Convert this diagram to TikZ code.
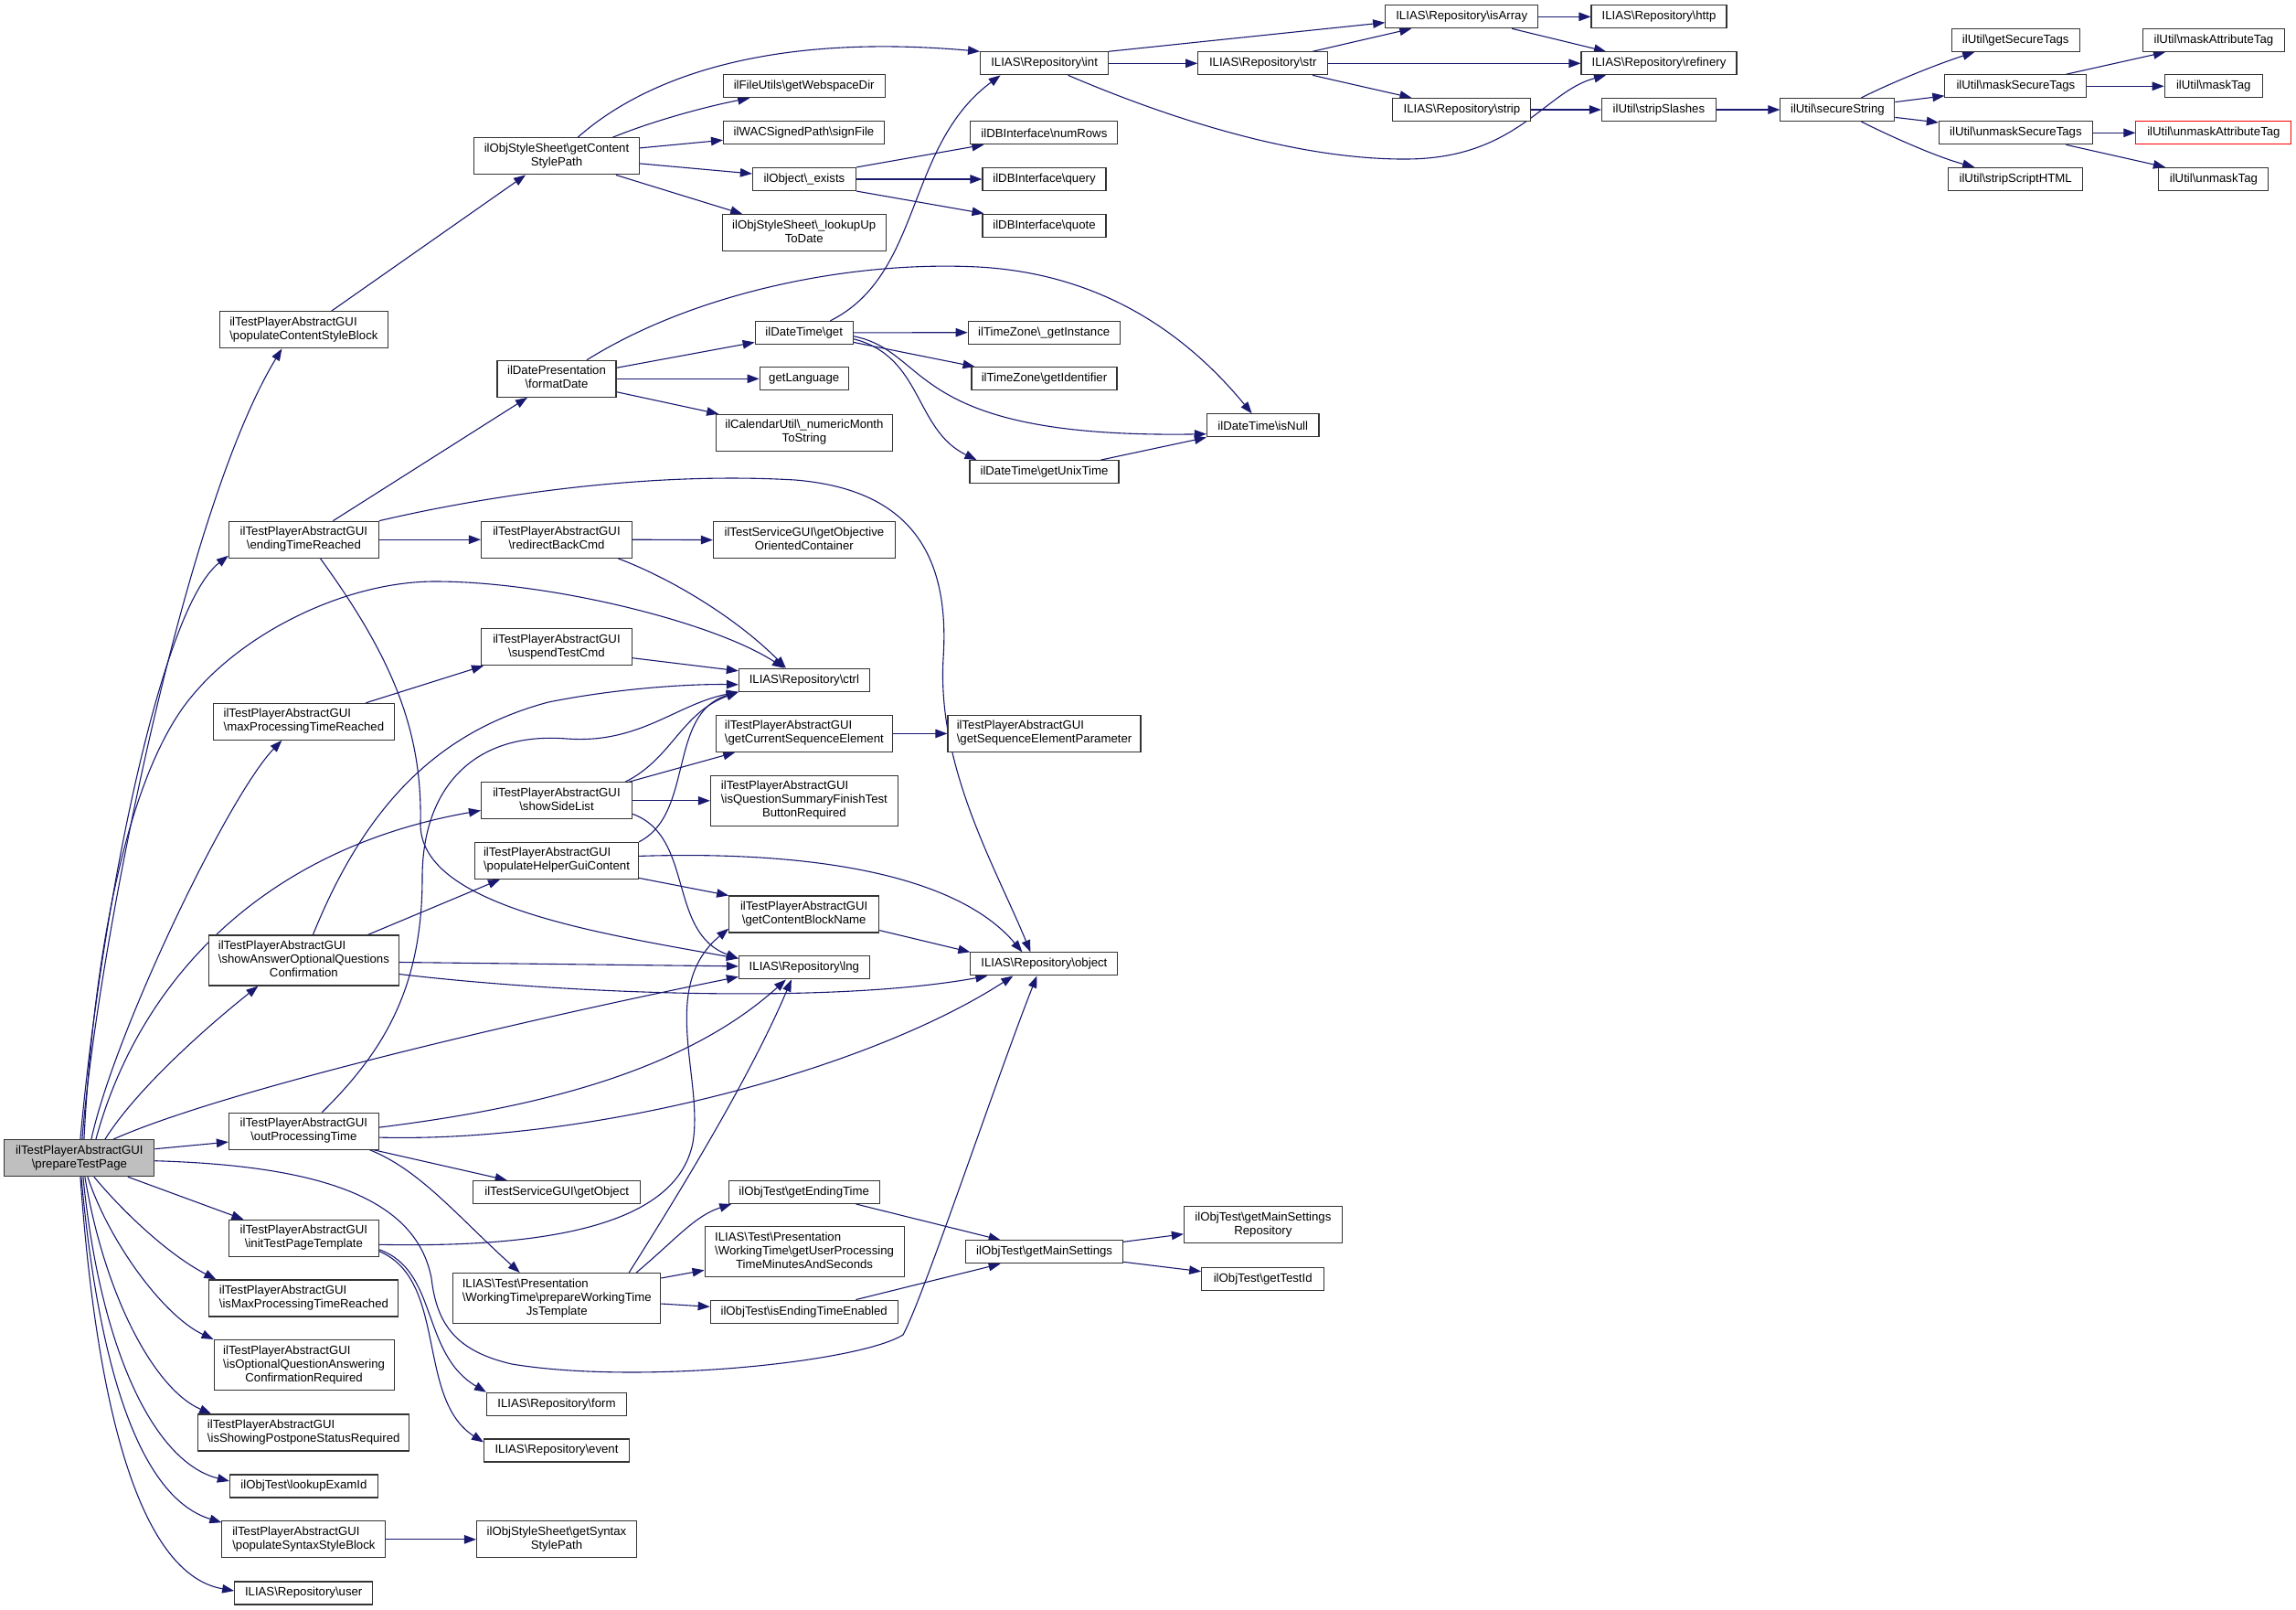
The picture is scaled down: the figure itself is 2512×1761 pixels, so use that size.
\documentclass[tikz,border=0pt]{standalone}
\usepackage{fontspec}
\setmainfont{Liberation Sans}
\usetikzlibrary{arrows.meta}
\definecolor{edgecol}{HTML}{191970}
\definecolor{rootfill}{HTML}{BFBFBF}
\newcommand{\BS}{\textbackslash}
\newcommand{\Lft}[1]{\multicolumn{1}{@{}l@{}}{#1}}
\newcommand{\TwoL}[2]{\begin{tabular}{@{}c@{}}\Lft{#1}\\#2\end{tabular}}
\newcommand{\ThreeL}[3]{\begin{tabular}{@{}c@{}}\Lft{#1}\\\Lft{#2}\\#3\end{tabular}}
\pgfdeclarelayer{bg}
\pgfsetlayers{bg,main}
\begin{document}
\begin{tikzpicture}[x=1pt,y=-1pt,
  fn/.style={draw=black!80, line width=1.1pt, fill=white, inner sep=0pt,
    minimum height=25, font=\fontsize{13.2}{15}\selectfont},
  two/.style={minimum height=40},
  three/.style={minimum height=55},
  root/.style={fill=rootfill},
  redbox/.style={draw=red},
  e/.style={draw=edgecol, line width=1.1pt, -{Triangle[length=13pt,width=9.5pt]}}]
\useasboundingbox (0,0) rectangle (2512,1761);
% nodes
\node[fn,two,root,minimum width=164] (P) at (86.9,1266.7) {\TwoL{ilTestPlayerAbstractGUI}{\BS prepareTestPage}};
\node[fn,two,minimum width=184] (PCSB) at (332.4,360.9) {\TwoL{ilTestPlayerAbstractGUI}{\BS populateContentStyleBlock}};
\node[fn,two,minimum width=181] (GCSP) at (609,170.9) {\TwoL{ilObjStyleSheet\BS getContent}{StylePath}};
\node[fn,minimum width=140] (INT) at (1142.6,69.3) {ILIAS\BS Repository\BS int};
\node[fn,minimum width=177] (WEB) at (879.7,94.3) {ilFileUtils\BS getWebspaceDir};
\node[fn,minimum width=176] (SIGN) at (879.5,145.3) {ilWACSignedPath\BS signFile};
\node[fn,minimum width=113] (EXISTS) at (879.9,196) {ilObject\BS\_exists};
\node[fn,two,minimum width=179] (LOOKUP) at (879.7,254.6) {\TwoL{ilObjStyleSheet\BS\_lookupUp}{ToDate}};
\node[fn,minimum width=161] (NUMROWS) at (1142.4,145.3) {ilDBInterface\BS numRows};
\node[fn,minimum width=135] (QUERY) at (1142.5,196) {ilDBInterface\BS query};
\node[fn,minimum width=135] (QUOTE) at (1142.5,246.6) {ilDBInterface\BS quote};
\node[fn,minimum width=167] (ISARRAY) at (1599.2,18.3) {ILIAS\BS Repository\BS isArray};
\node[fn,minimum width=148] (HTTP) at (1815,18.3) {ILIAS\BS Repository\BS http};
\node[fn,minimum width=142] (STR) at (1381.7,69.3) {ILIAS\BS Repository\BS str};
\node[fn,minimum width=170] (REFINERY) at (1815,69.3) {ILIAS\BS Repository\BS refinery};
\node[fn,minimum width=151] (STRIP) at (1599.4,120) {ILIAS\BS Repository\BS strip};
\node[fn,minimum width=125] (STRIPSL) at (1814.9,120) {ilUtil\BS stripSlashes};
\node[fn,minimum width=125] (SECURE) at (2010.4,120) {ilUtil\BS secureString};
\node[fn,minimum width=140] (GETSEC) at (2205.2,44) {ilUtil\BS getSecureTags};
\node[fn,minimum width=155] (MASKSEC) at (2205.4,94.3) {ilUtil\BS maskSecureTags};
\node[fn,minimum width=168] (UNMASKSEC) at (2205.4,145.3) {ilUtil\BS unmaskSecureTags};
\node[fn,minimum width=147] (STRIPHTML) at (2205.2,195.8) {ilUtil\BS stripScriptHTML};
\node[fn,minimum width=155] (MASKATTR) at (2421.9,44) {ilUtil\BS maskAttributeTag};
\node[fn,minimum width=107] (MASKTAG) at (2421.7,94.3) {ilUtil\BS maskTag};
\node[fn,redbox,minimum width=170] (UNMASKATTR) at (2421.9,145.3) {ilUtil\BS unmaskAttributeTag};
\node[fn,minimum width=120] (UNMASKTAG) at (2421.9,195.8) {ilUtil\BS unmaskTag};
\node[fn,two,minimum width=130] (FORMATDATE) at (609,414.3) {\TwoL{ilDatePresentation}{\BS formatDate}};
\node[fn,minimum width=107] (DTGET) at (879.7,363.9) {ilDateTime\BS get};
\node[fn,minimum width=166] (GETINST) at (1142.2,363.7) {ilTimeZone\BS\_getInstance};
\node[fn,minimum width=159] (GETIDENT) at (1142.5,414.1) {ilTimeZone\BS getIdentifier};
\node[fn,minimum width=97] (GETLANG) at (879.7,414.3) {getLanguage};
\node[fn,two,minimum width=193] (NUMMONTH) at (879.9,473.3) {\TwoL{ilCalendarUtil\BS\_numericMonth}{ToString}};
\node[fn,minimum width=163] (UNIXTIME) at (1142.5,516.1) {ilDateTime\BS getUnixTime};
\node[fn,minimum width=122.5] (ISNULL) at (1381.7,465.4) {ilDateTime\BS isNull};
\node[fn,two,minimum width=164] (ENDING) at (332.4,590.2) {\TwoL{ilTestPlayerAbstractGUI}{\BS endingTimeReached}};
\node[fn,two,minimum width=165] (REDIRECT) at (609,590.2) {\TwoL{ilTestPlayerAbstractGUI}{\BS redirectBackCmd}};
\node[fn,two,minimum width=199] (OBJCONT) at (879.9,590.6) {\TwoL{ilTestServiceGUI\BS getObjective}{OrientedContainer}};
\node[fn,two,minimum width=165] (SUSPEND) at (609,707.7) {\TwoL{ilTestPlayerAbstractGUI}{\BS suspendTestCmd}};
\node[fn,two,minimum width=198] (MAXPROC) at (332.4,789.3) {\TwoL{ilTestPlayerAbstractGUI}{\BS maxProcessingTimeReached}};
\node[fn,minimum width=143] (CTRL) at (879.9,743.8) {ILIAS\BS Repository\BS ctrl};
\node[fn,two,minimum width=193] (CURSEQ) at (879.9,802.4) {\TwoL{ilTestPlayerAbstractGUI}{\BS getCurrentSequenceElement}};
\node[fn,two,minimum width=211] (SEQPARAM) at (1142.5,802.4) {\TwoL{ilTestPlayerAbstractGUI}{\BS getSequenceElementParameter}};
\node[fn,two,minimum width=165] (SIDELIST) at (609,875.8) {\TwoL{ilTestPlayerAbstractGUI}{\BS showSideList}};
\node[fn,three,minimum width=205] (QSUMMARY) at (879.9,875.8) {\ThreeL{ilTestPlayerAbstractGUI}{\BS isQuestionSummaryFinishTest}{ButtonRequired}};
\node[fn,two,minimum width=179] (HELPER) at (609,941.4) {\TwoL{ilTestPlayerAbstractGUI}{\BS populateHelperGuiContent}};
\node[fn,two,minimum width=164] (CBNAME) at (879.7,1000) {\TwoL{ilTestPlayerAbstractGUI}{\BS getContentBlockName}};
\node[fn,three,minimum width=208] (SHOWANS) at (332.4,1050.5) {\ThreeL{ilTestPlayerAbstractGUI}{\BS showAnswerOptionalQuestions}{Confirmation}};
\node[fn,minimum width=143] (LNG) at (879.9,1058.4) {ILIAS\BS Repository\BS lng};
\node[fn,minimum width=161] (OBJECT) at (1142.4,1054.4) {ILIAS\BS Repository\BS object};
\node[fn,two,minimum width=164] (OUTPROC) at (332.4,1237.1) {\TwoL{ilTestPlayerAbstractGUI}{\BS outProcessingTime}};
\node[fn,minimum width=183] (GETOBJ) at (609.2,1303.9) {ilTestServiceGUI\BS getObject};
\node[fn,two,minimum width=164] (INITTPL) at (332.4,1354.3) {\TwoL{ilTestPlayerAbstractGUI}{\BS initTestPageTemplate}};
\node[fn,three,minimum width=227] (PREPWT) at (609.2,1420) {\ThreeL{ILIAS\BS Test\BS Presentation}{\BS WorkingTime\BS prepareWorkingTime}{JsTemplate}};
\node[fn,two,minimum width=207] (ISMAXPROC) at (332.4,1420) {\TwoL{ilTestPlayerAbstractGUI}{\BS isMaxProcessingTimeReached}};
\node[fn,three,minimum width=197] (ISOPT) at (332.6,1493) {\ThreeL{ilTestPlayerAbstractGUI}{\BS isOptionalQuestionAnswering}{ConfirmationRequired}};
\node[fn,two,minimum width=231] (ISSHOW) at (332.2,1567) {\TwoL{ilTestPlayerAbstractGUI}{\BS isShowingPostponeStatusRequired}};
\node[fn,minimum width=162] (LOOKUPEXAM) at (332.4,1625.5) {ilObjTest\BS lookupExamId};
\node[fn,two,minimum width=179] (SYNTAXBLK) at (332.4,1683.8) {\TwoL{ilTestPlayerAbstractGUI}{\BS populateSyntaxStyleBlock}};
\node[fn,minimum width=151] (USER) at (332.2,1742.5) {ILIAS\BS Repository\BS user};
\node[fn,minimum width=153] (FORM) at (609,1535.8) {ILIAS\BS Repository\BS form};
\node[fn,minimum width=159] (EVENT) at (609,1586.5) {ILIAS\BS Repository\BS event};
\node[fn,two,minimum width=175] (SYNTAXPATH) at (609,1683.8) {\TwoL{ilObjStyleSheet\BS getSyntax}{StylePath}};
\node[fn,minimum width=165] (ENDTIME) at (879.7,1303.9) {ilObjTest\BS getEndingTime};
\node[fn,three,minimum width=218] (USERPROC) at (880.1,1369.3) {\ThreeL{ILIAS\BS Test\BS Presentation}{\BS WorkingTime\BS getUserProcessing}{TimeMinutesAndSeconds}};
\node[fn,minimum width=205] (ENDENABLED) at (879.7,1434.6) {ilObjTest\BS isEndingTimeEnabled};
\node[fn,minimum width=172] (MAINSET) at (1142.6,1369.3) {ilObjTest\BS getMainSettings};
\node[fn,two,minimum width=173] (MAINREPO) at (1381.9,1339.8) {\TwoL{ilObjTest\BS getMainSettings}{Repository}};
\node[fn,minimum width=134] (TESTID) at (1381.7,1398.7) {ilObjTest\BS getTestId};
% edges
\begin{pgfonlayer}{bg}
\draw[e] ([xshift=3]P.north) .. controls (105,1050) and (200,560) .. ([xshift=-24]PCSB.south);
\draw[e] ([xshift=1]P.north) .. controls (110,1000) and (175,666) .. ([yshift=3]ENDING.south west);
\draw[e] ([xshift=5]P.north) .. controls (105,1000) and (150,830) .. (212,759) .. controls (270,690) and (380,636) .. (476,636) .. controls (600,636) and (780,680) .. ([xshift=-22]CTRL.north);
\draw[e] ([xshift=13]P.north) .. controls (125,1130) and (250,870) .. ([xshift=-24]MAXPROC.south);
\draw[e] ([xshift=18]P.north) .. controls (150,1080) and (280,930) .. ([yshift=-10.7]SIDELIST.west);
\draw[e] ([xshift=28]P.north) .. controls (150,1190) and (230,1120) .. ([xshift=-50]SHOWANS.south);
\draw[e] ([xshift=37]P.north) .. controls (250,1190) and (600,1110) .. ([yshift=-10]LNG.west);
\draw[e] ([yshift=10]P.east) -- ([yshift=-12]OUTPROC.west);
\draw[e] ([yshift=-3]P.east) .. controls (350,1275) and (455,1310) .. (472,1398) .. controls (478,1450) and (500,1478) .. (560,1492) .. controls (700,1515) and (940,1490) .. (988,1460) .. controls (1010,1420) and (1090,1180) .. ([xshift=-8]OBJECT.south);
\draw[e] ([xshift=53]P.south) -- ([xshift=-66]INITTPL.north);
\draw[e] ([xshift=16]P.south) .. controls (130,1320) and (180,1370) .. ([xshift=-96]ISMAXPROC.north);
\draw[e] ([xshift=9]P.south) .. controls (120,1360) and (180,1440) .. (ISOPT.north west);
\draw[e] ([xshift=6]P.south) .. controls (115,1420) and (170,1520) .. ([xshift=-101]ISSHOW.north);
\draw[e] ([xshift=4]P.south) .. controls (110,1480) and (170,1600) .. ([yshift=5.5]LOOKUPEXAM.west);
\draw[e] ([xshift=2]P.south) .. controls (110,1520) and (160,1640) .. ([yshift=-2]SYNTAXBLK.north west);
\draw[e] ([xshift=1]P.south) .. controls (110,1600) and (170,1725) .. ([yshift=2.5]USER.west);
\draw[e] ([xshift=30]PCSB.north) -- ([xshift=-34]GCSP.south);
\draw[e] ([xshift=23]GCSP.north) .. controls (700,90) and (830,35) .. (INT.north west);
\draw[e] ([xshift=61]GCSP.north) .. controls (720,130) and (780,115) .. ([xshift=-59.5]WEB.south);
\draw[e] ([yshift=9]GCSP.east) -- ([yshift=-8]SIGN.west);
\draw[e] ([yshift=-8]GCSP.east) -- ([yshift=6]EXISTS.west);
\draw[e] ([xshift=65]GCSP.south) -- ([xshift=-67.5]LOOKUP.north);
\draw[e] (EXISTS.north east) -- ([xshift=-66]NUMROWS.south);
\draw[e] (EXISTS.east) -- (QUERY.west);
\draw[e] (EXISTS.south east) -- ([xshift=-66]QUOTE.north);
\draw[e] (INT.north east) -- ([yshift=-6.4]ISARRAY.west);
\draw[e] (INT.east) -- (STR.west);
\draw[e] ([xshift=26]INT.south) .. controls (1280,130) and (1420,175) .. (1540,174) .. controls (1660,173) and (1690,100) .. ([xshift=-58]REFINERY.south);
\draw[e] ([xshift=54.5]STR.north) -- ([xshift=-55]ISARRAY.south);
\draw[e] (STR.east) -- (REFINERY.west);
\draw[e] ([xshift=54.5]STR.south) -- ([xshift=-55]STRIP.north);
\draw[e] (ISARRAY.east) -- (HTTP.west);
\draw[e] ([xshift=55]ISARRAY.south) -- ([xshift=-58]REFINERY.north);
\draw[e] (STRIP.east) -- (STRIPSL.west);
\draw[e] (STRIPSL.east) -- (SECURE.west);
\draw[e] ([xshift=26]SECURE.north) .. controls (2070,90) and (2120,70) .. ([xshift=-45]GETSEC.south);
\draw[e] ([yshift=8.4]SECURE.east) -- ([yshift=-10.5]MASKSEC.west);
\draw[e] ([yshift=-8.4]SECURE.east) -- ([yshift=11.3]UNMASKSEC.west);
\draw[e] ([xshift=26]SECURE.south) .. controls (2070,150) and (2120,172) .. ([xshift=-45]STRIPHTML.north);
\draw[e] ([xshift=55]MASKSEC.north) -- ([xshift=-53]MASKATTR.south);
\draw[e] (MASKSEC.east) -- (MASKTAG.west);
\draw[e] (UNMASKSEC.east) -- (UNMASKATTR.west);
\draw[e] ([xshift=55]UNMASKSEC.south) -- ([xshift=-53]UNMASKTAG.north);
\draw[e] ([xshift=32]ENDING.north) -- ([xshift=-32]FORMATDATE.south);
\draw[e] (ENDING.east) -- (REDIRECT.west);
\draw[e] (ENDING.north east) .. controls (520,545) and (700,515) .. (870,525) .. controls (990,535) and (1040,600) .. (1032,720) .. controls (1025,840) and (1090,950) .. ([xshift=-15]OBJECT.north);
\draw[e] ([xshift=18]ENDING.south) .. controls (430,720) and (462,800) .. (460,900) .. controls (458,990) and (650,1020) .. ([yshift=10]LNG.west);
\draw[e] (REDIRECT.east) -- (OBJCONT.west);
\draw[e] ([xshift=67]REDIRECT.south) .. controls (740,635) and (810,680) .. ([xshift=-20]CTRL.north);
\draw[e] ([yshift=-12]SUSPEND.east) -- ([yshift=10]CTRL.west);
\draw[e] ([xshift=68]MAXPROC.north) -- ([xshift=-80]SUSPEND.south);
\draw[e] ([xshift=10]SHOWANS.north) .. controls (400,880) and (480,800) .. (600,768) .. controls (680,752) and (760,748) .. ([yshift=-5]CTRL.west);
\draw[e] ([xshift=20]OUTPROC.north) .. controls (420,1150) and (462,1080) .. (462,960) .. controls (462,860) and (520,800) .. (620,808) .. controls (700,814) and (740,770) .. (CTRL.south west);
\draw[e] ([xshift=75]SIDELIST.north) .. controls (735,830) and (745,780) .. (CTRL.south west);
\draw[e] ([xshift=79]SIDELIST.north) -- ([xshift=-75.7]CURSEQ.south);
\draw[e] (SIDELIST.east) -- (QSUMMARY.west);
\draw[e] ([yshift=-14.5]SIDELIST.east) .. controls (760,915) and (730,1020) .. ([yshift=10]LNG.west);
\draw[e] (HELPER.north east) .. controls (760,890) and (730,780) .. (CTRL.south west);
\draw[e] ([yshift=5]HELPER.east) .. controls (900,930) and (1050,960) .. ([xshift=-24]OBJECT.north);
\draw[e] ([yshift=-19]HELPER.east) -- (CBNAME.north west);
\draw[e] ([yshift=-17.6]CBNAME.east) -- (OBJECT.north west);
\draw[e] (CURSEQ.east) -- (SEQPARAM.west);
\draw[e] ([xshift=70]SHOWANS.north) -- ([xshift=-62]HELPER.south);
\draw[e] ([yshift=-2]SHOWANS.east) -- ([yshift=1.5]LNG.west);
\draw[e] ([yshift=-15]SHOWANS.east) .. controls (600,1085) and (900,1100) .. ([xshift=-62]OBJECT.south);
\draw[e] ([yshift=4]OUTPROC.east) .. controls (560,1215) and (740,1180) .. ([xshift=-20]LNG.south);
\draw[e] ([yshift=-7]OUTPROC.east) .. controls (650,1250) and (950,1170) .. ([xshift=-34]OBJECT.south);
\draw[e] ([xshift=76]OUTPROC.south) -- ([xshift=-54.5]GETOBJ.north);
\draw[e] ([xshift=72]OUTPROC.south) .. controls (460,1280) and (500,1330) .. ([xshift=-40.5]PREPWT.north);
\draw[e] ([yshift=-7]INITTPL.east) .. controls (600,1365) and (740,1340) .. (758,1250) .. controls (770,1180) and (720,1080) .. ([yshift=-15.7]CBNAME.west);
\draw[e] ([yshift=-12.5]INITTPL.east) .. controls (480,1390) and (460,1480) .. (FORM.north west);
\draw[e] ([yshift=-14.4]INITTPL.east) .. controls (490,1400) and (455,1530) .. ([yshift=9]EVENT.west);
\draw[e] ([xshift=79]PREPWT.north) .. controls (740,1310) and (820,1180) .. ([xshift=-14]LNG.south);
\draw[e] ([xshift=87]PREPWT.north) .. controls (740,1355) and (760,1330) .. ([xshift=-79.5]ENDTIME.south);
\draw[e] ([yshift=22]PREPWT.east) -- ([yshift=-20]USERPROC.west);
\draw[e] ([yshift=-6]PREPWT.east) -- ([yshift=5.3]ENDENABLED.west);
\draw[e] ([xshift=56.7]ENDTIME.south) -- ([xshift=-48]MAINSET.north);
\draw[e] ([xshift=56.7]ENDENABLED.north) -- ([xshift=-48]MAINSET.south);
\draw[e] ([yshift=11]MAINSET.east) -- ([yshift=-10]MAINREPO.west);
\draw[e] ([yshift=-11]MAINSET.east) -- ([yshift=8]TESTID.west);
\draw[e] (SYNTAXBLK.east) -- (SYNTAXPATH.west);
\draw[e] ([yshift=12]FORMATDATE.east) -- ([yshift=-10.5]DTGET.west);
\draw[e] (FORMATDATE.east) -- (GETLANG.west);
\draw[e] ([yshift=-14.4]FORMATDATE.east) -- ([xshift=-93.7]NUMMONTH.north);
\draw[e] ([xshift=33]FORMATDATE.north) .. controls (760,320) and (930,285) .. (1070,292) .. controls (1220,300) and (1310,380) .. ([xshift=-12]ISNULL.north);
\draw[e] ([xshift=28.7]DTGET.north) .. controls (1010,300) and (990,160) .. ([xshift=-48]INT.south);
\draw[e] (DTGET.east) -- (GETINST.west);
\draw[e] ([yshift=-10.5]DTGET.east) -- ([xshift=-76]GETIDENT.north);
\draw[e] ([yshift=-3.8]DTGET.east) .. controls (1020,385) and (990,480) .. ([yshift=-9.3]ISNULL.west);
\draw[e] ([yshift=-6.8]DTGET.east) .. controls (1010,390) and (1000,470) .. ([xshift=-74]UNIXTIME.north);
\draw[e] ([xshift=62]UNIXTIME.north) -- (ISNULL.south west);
\end{pgfonlayer}
\end{tikzpicture}
\end{document}
